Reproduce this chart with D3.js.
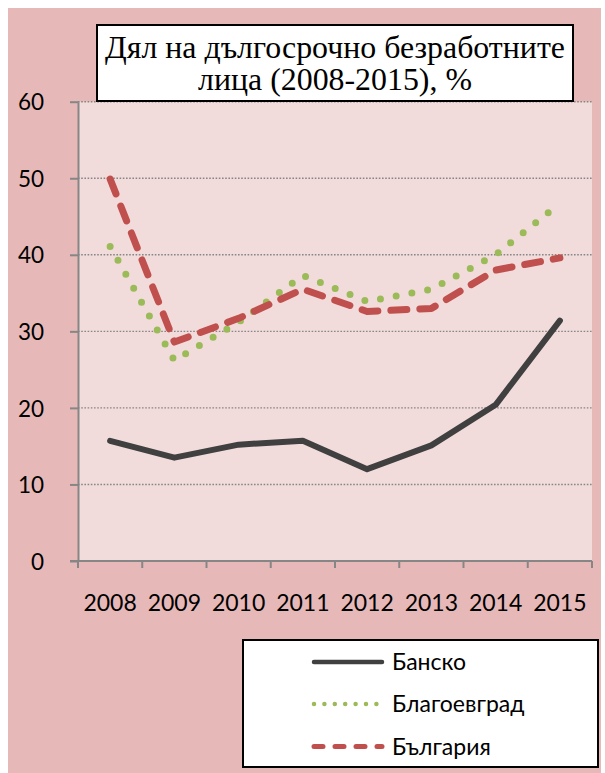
<!DOCTYPE html>
<html>
<head>
<meta charset="utf-8">
<script src="https://cdn.jsdelivr.net/npm/d3@7/dist/d3.min.js"></script>
<style>
  html, body { margin: 0; padding: 0; background: #ffffff; }
  svg { display: block; }
</style>
</head>
<body>
<svg id="chart" width="605" height="773"></svg>
<script>
// Long-term unemployed share, 2008-2015 (%)
const years = ["2008", "2009", "2010", "2011", "2012", "2013", "2014", "2015"];
const bansko = [15.7, 13.5, 15.2, 15.7, 12.0, 15.1, 20.4, 31.4];
const blagoevgrad = [41.1, 26.2, 31.2, 37.3, 33.9, 35.5, 40.0, 46.7];
const bulgaria = [49.9, 28.6, 31.7, 35.5, 32.6, 33.0, 38.0, 39.6];
const yTicks = [0, 10, 20, 30, 40, 50, 60];
const titleLines = ["Дял на дългосрочно безработните", "лица (2008-2015), %"];

const series = [
  { name: "Банско", values: bansko, color: "#404040", width: 6, dash: null, cap: "round",
    legend: { width: 4.5, dash: null } },
  { name: "Благоевград", values: blagoevgrad, color: "#9bbb59", width: 7, dash: "0,16", cap: "round",
    legend: { width: 4.5, dash: "0,10.4" } },
  { name: "България", values: bulgaria, color: "#c0504d", width: 7, dash: "16,13", cap: "round",
    legend: { width: 5, dash: "9,12" } }
];

const svg = d3.select("#chart");
const sans = "Lato, 'Open Sans', sans-serif";
const serif = "'Liberation Serif', 'DejaVu Serif', serif";

// outer chart area
svg.append("rect").attr("x", 8).attr("y", 8).attr("width", 593).attr("height", 765)
  .attr("fill", "#e6b9b8");

const plot = { left: 78, right: 592, top: 101.7, bottom: 561 };

svg.append("rect")
  .attr("x", plot.left).attr("y", plot.top)
  .attr("width", plot.right - plot.left).attr("height", plot.bottom - plot.top)
  .attr("fill", "#f2dcdb");

const x = d3.scaleBand().domain(years).range([plot.left, plot.right]).padding(0);
const y = d3.scaleLinear().domain([0, 60]).range([plot.bottom, plot.top]);
const cx = d => x(d) + x.bandwidth() / 2;

// horizontal gridlines
svg.append("g")
  .selectAll("line")
  .data(yTicks.filter(t => t > 0))
  .join("line")
  .attr("x1", plot.left).attr("x2", plot.right)
  .attr("y1", d => y(d)).attr("y2", d => y(d))
  .attr("stroke", "#868686").attr("stroke-width", 1.4)
  .attr("stroke-dasharray", "1.6,1.6");

// y axis
const yAxis = svg.append("g")
  .attr("transform", `translate(${plot.left},0)`)
  .call(d3.axisLeft(y).tickValues(yTicks).tickSize(8).tickPadding(26).tickSizeOuter(0));
yAxis.select(".domain").attr("stroke", "#868686").attr("stroke-width", 2);
yAxis.selectAll(".tick line").attr("stroke", "#868686").attr("stroke-width", 2);
yAxis.selectAll(".tick text")
  .attr("font-family", sans).attr("font-size", 22.5).attr("fill", "#000")
  .attr("dy", "0.36em");

// x axis: ticks at category boundaries
const xAxisG = svg.append("g").attr("transform", `translate(0,${plot.bottom})`);
xAxisG.append("line")
  .attr("x1", plot.left - 8).attr("x2", plot.right)
  .attr("stroke", "#868686").attr("stroke-width", 2);
const bounds = years.map(d => x(d)).concat([x(years[years.length - 1]) + x.bandwidth()]);
xAxisG.selectAll("line.tk").data(bounds).join("line").attr("class", "tk")
  .attr("x1", d => d).attr("x2", d => d).attr("y1", 0).attr("y2", 7)
  .attr("stroke", "#868686").attr("stroke-width", 2);
xAxisG.selectAll("text").data(years).join("text")
  .attr("x", d => cx(d)).attr("y", 50)
  .attr("text-anchor", "middle")
  .attr("font-family", sans).attr("font-size", 23).attr("fill", "#000")
  .text(d => d);

// series lines
const line = d3.line().x((d, i) => cx(years[i])).y(d => y(d));
series.forEach(s => {
  svg.append("path")
    .datum(s.values)
    .attr("d", line)
    .attr("fill", "none")
    .attr("stroke", s.color)
    .attr("stroke-width", s.width)
    .attr("stroke-linecap", s.cap)
    .attr("stroke-linejoin", "round")
    .attr("stroke-dasharray", s.dash);
});

// title box
const tBox = { x: 97, y: 25, w: 476, h: 76 };
svg.append("rect")
  .attr("x", tBox.x).attr("y", tBox.y).attr("width", tBox.w).attr("height", tBox.h)
  .attr("fill", "#ffffff").attr("stroke", "#000").attr("stroke-width", 2);
const t1 = svg.append("text")
  .attr("x", tBox.x + tBox.w / 2).attr("y", 57.5)
  .attr("text-anchor", "middle").attr("font-family", serif).attr("font-size", 100)
  .attr("fill", "#000").text(titleLines[0]);
// size the heading so the first line spans the box
const fs = 100 * 460 / t1.node().getComputedTextLength();
t1.attr("font-size", fs);
svg.append("text")
  .attr("x", tBox.x + tBox.w / 2).attr("y", 90)
  .attr("text-anchor", "middle").attr("font-family", serif).attr("font-size", fs)
  .attr("fill", "#000").text(titleLines[1]);

// legend
const lg = svg.append("g");
lg.append("rect").attr("x", 243).attr("y", 640).attr("width", 355).attr("height", 127)
  .attr("fill", "#ffffff").attr("stroke", "#000").attr("stroke-width", 2);
const rowY = [662, 704, 746.5];
series.forEach((s, i) => {
  lg.append("line")
    .attr("x1", 314).attr("x2", 382)
    .attr("y1", rowY[i]).attr("y2", rowY[i])
    .attr("stroke", s.color)
    .attr("stroke-width", s.legend.width)
    .attr("stroke-linecap", "round")
    .attr("stroke-dasharray", s.legend.dash);
  lg.append("text")
    .attr("x", 392).attr("y", rowY[i]).attr("dy", "0.36em")
    .attr("font-family", sans).attr("font-size", 23).attr("fill", "#000")
    .text(s.name);
});
</script>
</body>
</html>
